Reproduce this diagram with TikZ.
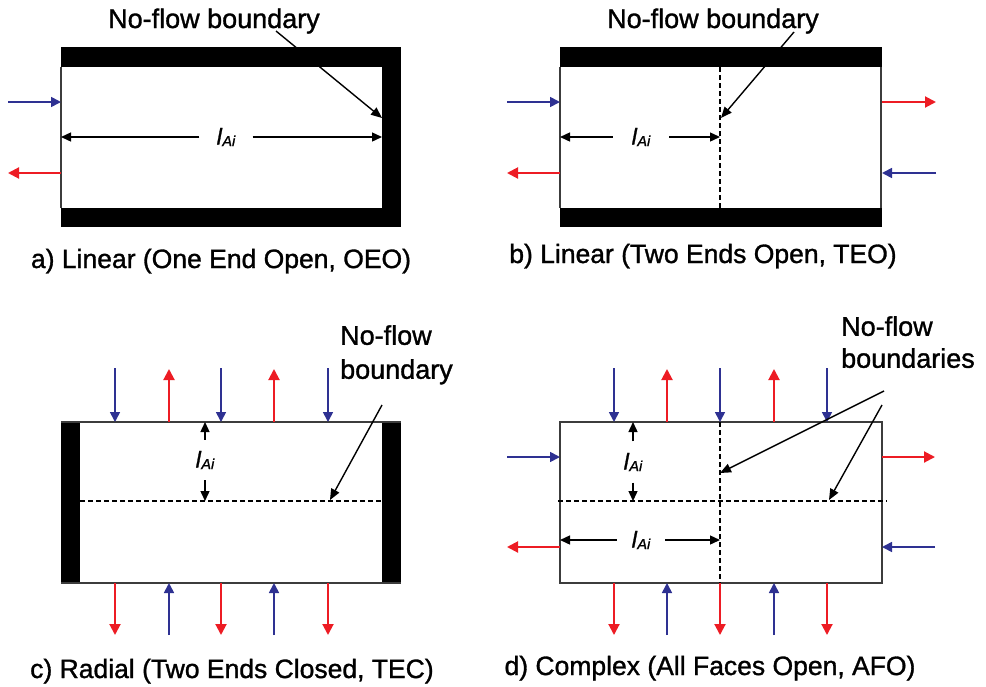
\documentclass[tikz,border=0pt]{standalone}
\usepackage{fontspec}
\setmainfont{Liberation Sans}[FakeBold=1.2]
\usetikzlibrary{arrows.meta}

\definecolor{flowblue}{RGB}{46,49,146}
\definecolor{flowred}{RGB}{237,28,36}
\definecolor{edgegray}{RGB}{60,60,60}

\tikzset{
  inflow/.style={draw=flowblue, line width=1.7pt, -{Triangle[length=10pt,width=10pt]}},
  outflow/.style={draw=flowred, line width=2pt, -{Triangle[length=11pt,width=11pt]}},
  dimarrow/.style={draw=black, line width=1.4pt, -{Triangle[length=10pt,width=9pt]}},
  pointer/.style={draw=black, line width=1.4pt, -{Triangle[length=11pt,width=9pt]}},
  wall/.style={fill=black},
  faceline/.style={draw=edgegray, line width=1.7pt},
  noflowline/.style={draw=black, line width=1.4pt, dash pattern=on 5pt off 3pt},
  caption/.style={anchor=base, inner sep=0pt, font=\fontsize{26.5}{30}\selectfont},
  callout/.style={inner sep=0pt, font=\fontsize{27}{34}\selectfont},
  dimlabel/.style={inner sep=0pt},
}

% length symbol l_{Ai}
\newcommand{\lengthAi}{{\fontsize{23}{23}\selectfont\itshape l\kern0.5pt\raisebox{-1.5pt}{\fontsize{14.5}{14.5}\selectfont Ai}}}

\begin{document}
\begin{tikzpicture}[x=1pt,y=-1pt]
\useasboundingbox (0,0) rectangle (986,686);
\fill[white] (0,0) rectangle (986,686);

% ---------------- a) Linear, one end open ----------------
\fill[wall] (61,47) rectangle (401,67);
\fill[wall] (382,67) rectangle (401,208);
\fill[wall] (61,208) rectangle (401,227);
\draw[faceline] (61,67) -- (61,208);

\coordinate (aInS) at (8,102);   \coordinate (aInE) at (61,102);
\coordinate (aOutS) at (61,173); \coordinate (aOutE) at (8,173);
\draw[inflow] (aInS) -- (aInE);
\draw[outflow] (aOutS) -- (aOutE);

\node[dimlabel, minimum width=53pt] (aDim) at (226,137) {\lengthAi};
\coordinate (aDimL) at (61,137); \coordinate (aDimR) at (382,137);
\draw[dimarrow] (aDim.west) -- (aDimL);
\draw[dimarrow] (aDim.east) -- (aDimR);

\node[callout, anchor=base] (aNote) at (214,28) {No-flow boundary};
\coordinate (aTip) at (382,118);
\draw[pointer] ([xshift=62pt,yshift=-3pt]aNote.base) -- (aTip);

\node[caption] (aCap) at (221,268) {a) Linear (One End Open, OEO)};

% ---------------- b) Linear, two ends open ----------------
\fill[wall] (560,47) rectangle (882,67);
\fill[wall] (560,208) rectangle (882,227);
\draw[faceline] (560,67) -- (560,208);
\draw[faceline] (881,67) -- (881,208);
\draw[noflowline] (720,67) -- (720,208);

\coordinate (bInLS) at (507,102);  \coordinate (bInLE) at (560,102);
\coordinate (bOutLS) at (560,173); \coordinate (bOutLE) at (507,173);
\coordinate (bOutRS) at (882,102); \coordinate (bOutRE) at (936,102);
\coordinate (bInRS) at (936,173);  \coordinate (bInRE) at (882,173);
\draw[inflow] (bInLS) -- (bInLE);
\draw[outflow] (bOutLS) -- (bOutLE);
\draw[outflow] (bOutRS) -- (bOutRE);
\draw[inflow] (bInRS) -- (bInRE);

\node[dimlabel, minimum width=56pt] (bDim) at (641,137) {\lengthAi};
\coordinate (bDimL) at (560,137); \coordinate (bDimR) at (720,137);
\draw[dimarrow] (bDim.west) -- (bDimL);
\draw[dimarrow] (bDim.east) -- (bDimR);

\node[callout, anchor=base] (bNote) at (713,28) {No-flow boundary};
\coordinate (bTip) at (721,118);
\draw[pointer] ([xshift=81pt,yshift=-4pt]bNote.base) -- (bTip);

\node[caption] (bCap) at (703,263) {b) Linear (Two Ends Open, TEO)};

% ---------------- c) Radial, two ends closed ----------------
\fill[wall] (61,422) rectangle (80,583);
\fill[wall] (382,422) rectangle (401,583);
\draw[faceline] (61,422) -- (401,422);
\draw[faceline] (61,583) -- (401,583);
\draw[noflowline] (80,501) -- (382,501);

\foreach \x [count=\i] in {115,221,328} {
  \coordinate (cTopIn\i S) at (\x,368); \coordinate (cTopIn\i E) at (\x,422);
  \draw[inflow] (cTopIn\i S) -- (cTopIn\i E);
  \coordinate (cBotOut\i S) at (\x,583); \coordinate (cBotOut\i E) at (\x,635);
  \draw[outflow] (cBotOut\i S) -- (cBotOut\i E);
}
\foreach \x [count=\i] in {169,274} {
  \coordinate (cTopOut\i S) at (\x,422); \coordinate (cTopOut\i E) at (\x,369);
  \draw[outflow] (cTopOut\i S) -- (cTopOut\i E);
  \coordinate (cBotIn\i S) at (\x,635); \coordinate (cBotIn\i E) at (\x,583);
  \draw[inflow] (cBotIn\i S) -- (cBotIn\i E);
}

\node[dimlabel, minimum height=40pt] (cDim) at (205,460) {\lengthAi};
\coordinate (cDimT) at (205,422); \coordinate (cDimB) at (205,501);
\draw[dimarrow] (cDim.north) -- (cDimT);
\draw[dimarrow] (cDim.south) -- (cDimB);

\node[callout, align=left, anchor=north west] (cNote) at (340,325) {No-flow\\boundary};
\coordinate (cFrom) at (382,405); \coordinate (cTip) at (330,500);
\draw[pointer] (cFrom) -- (cTip);

\node[caption] (cCap) at (232,678) {c) Radial (Two Ends Closed, TEC)};

% ---------------- d) Complex, all faces open ----------------
\draw[faceline] (560,422) rectangle (882,583);
\draw[noflowline] (720,422) -- (720,583);
\draw[noflowline] (558,501) -- (887,501);

\foreach \x [count=\i] in {614,720,827} {
  \coordinate (dTopIn\i S) at (\x,368); \coordinate (dTopIn\i E) at (\x,422);
  \draw[inflow] (dTopIn\i S) -- (dTopIn\i E);
  \coordinate (dBotOut\i S) at (\x,583); \coordinate (dBotOut\i E) at (\x,635);
  \draw[outflow] (dBotOut\i S) -- (dBotOut\i E);
}
\foreach \x [count=\i] in {667,774} {
  \coordinate (dTopOut\i S) at (\x,422); \coordinate (dTopOut\i E) at (\x,369);
  \draw[outflow] (dTopOut\i S) -- (dTopOut\i E);
  \coordinate (dBotIn\i S) at (\x,635); \coordinate (dBotIn\i E) at (\x,583);
  \draw[inflow] (dBotIn\i S) -- (dBotIn\i E);
}

\coordinate (dInLS) at (507,457);  \coordinate (dInLE) at (560,457);
\coordinate (dOutLS) at (560,547); \coordinate (dOutLE) at (507,547);
\coordinate (dOutRS) at (882,457); \coordinate (dOutRE) at (935,457);
\coordinate (dInRS) at (935,547);  \coordinate (dInRE) at (882,547);
\draw[inflow] (dInLS) -- (dInLE);
\draw[outflow] (dOutLS) -- (dOutLE);
\draw[outflow] (dOutRS) -- (dOutRE);
\draw[inflow] (dInRS) -- (dInRE);

\node[dimlabel, minimum height=41pt] (dDimV) at (633,462) {\lengthAi};
\coordinate (dDimT) at (633,422); \coordinate (dDimB) at (633,501);
\draw[dimarrow] (dDimV.north) -- (dDimT);
\draw[dimarrow] (dDimV.south) -- (dDimB);

\node[dimlabel, minimum width=48pt] (dDimH) at (641,540) {\lengthAi};
\coordinate (dDimL) at (560,540); \coordinate (dDimR) at (720,540);
\draw[dimarrow] (dDimH.west) -- (dDimL);
\draw[dimarrow] (dDimH.east) -- (dDimR);

\node[callout, align=left, anchor=north west, font=\fontsize{27}{32}\selectfont] (dNote) at (841,316) {No-flow\\boundaries};
\coordinate (dFromA) at (884,391); \coordinate (dTipA) at (720,473);
\coordinate (dFromB) at (882,405); \coordinate (dTipB) at (829,500);
\draw[pointer] (dFromA) -- (dTipA);
\draw[pointer] (dFromB) -- (dTipB);

\node[caption] (dCap) at (710,675) {d) Complex (All Faces Open, AFO)};
\end{tikzpicture}
\end{document}
